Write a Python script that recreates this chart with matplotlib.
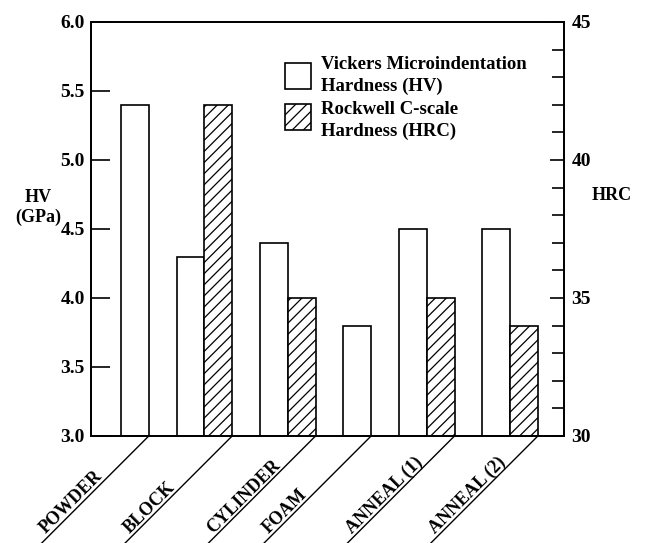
import numpy as np
import matplotlib
matplotlib.use('Agg')
import matplotlib.pyplot as plt
from matplotlib.patches import Rectangle

# Данные
categories = ['POWDER', 'BLOCK', 'CYLINDER', 'FOAM', 'ANNEAL (1)', 'ANNEAL (2)']
hv = [5.4, 4.3, 4.4, 3.8, 4.5, 4.5]              # ГПа
hrc = [np.nan, 42, 35, np.nan, 35, 34]           # HRC (нет данных для POWDER и FOAM)
legend_labels = ['Vickers Microindentation\nHardness (HV)',
                 'Rockwell C-scale\nHardness (HRC)']

# Раскладка: номер первой позиции каждой группы
slot = np.array([0, 2, 5, 8, 10, 13])

plt.rcParams['font.family'] = ['Liberation Serif', 'DejaVu Serif']
plt.rcParams['font.weight'] = 'bold'
plt.rcParams['axes.labelweight'] = 'bold'
plt.rcParams['hatch.linewidth'] = 0.9

W, H = 648, 543
fig = plt.figure(figsize=(W / 100, H / 100), dpi=100)
ax = fig.add_axes([0.1404, 0.1971, 0.7300, 0.7624])
ax2 = ax.twinx()

# HV - белые столбцы
ax.bar(slot, np.array(hv) - 3.0, bottom=3.0, width=1.0, align='edge',
       color='white', edgecolor='black', linewidth=1.2)

# HRC - заштрихованные столбцы
hrc_arr = np.array(hrc, dtype=float)
ok = ~np.isnan(hrc_arr)
ax2.bar(slot[ok] + 1, hrc_arr[ok] - 30, bottom=30, width=1.0, align='edge',
        color='white', edgecolor='black', linewidth=1.2, hatch='///')

ax.set_xlim(-1.08, 15.94)
ax.set_ylim(3.0, 6.0)
ax2.set_ylim(30, 45)

ax.set_xticks([])
ax.set_yticks(np.arange(3.0, 6.01, 0.5))
ax.set_yticklabels([f'{v:.1f}' for v in np.arange(3.0, 6.01, 0.5)])
ax.tick_params(axis='y', direction='in', length=14, width=1.2, labelsize=14, pad=4.5)

ax2.set_yticks([30, 35, 40, 45])
ax2.set_yticks(np.arange(30, 46, 1), minor=True)
ax2.tick_params(axis='y', which='major', direction='in', length=10, width=1.2,
                labelsize=14, pad=5.5)
ax2.tick_params(axis='y', which='minor', direction='in', length=9, width=1.2)

for a in (ax, ax2):
    for s in a.spines.values():
        s.set_linewidth(1.3)

ax.set_ylabel('HV\n(GPa)', rotation=0, fontsize=13, ha='center', va='center')
ax.yaxis.set_label_coords(-0.112, 0.553)
ax2.set_ylabel('HRC', rotation=0, fontsize=13, ha='center', va='center')
ax2.yaxis.set_label_coords(1.1015, 0.58)

# Наклонные подписи категорий с линиями
x_end = np.where(ok, slot + 2, slot + 1)
for name, xe in zip(categories, x_end):
    ax.annotate('', xy=(xe, 0), xycoords=('data', 'axes fraction'),
                xytext=(-125, -125), textcoords='offset pixels',
                arrowprops=dict(arrowstyle='-', lw=1.0, shrinkA=0, shrinkB=0),
                annotation_clip=False)
    ax.annotate(name, xy=(xe, 0), xycoords=('data', 'axes fraction'),
                xytext=(-100, -101), textcoords='offset pixels',
                rotation=45, rotation_mode='anchor', ha='left', va='bottom',
                fontsize=13, annotation_clip=False)

# Легенда (рисуется вручную: квадратные значки между двумя строками текста)
box_top = [63, 104]
line_base = [[69, 91], [114, 136]]
for i, lab in enumerate(legend_labels):
    fig.add_artist(Rectangle((285 / W, 1 - (box_top[i] + 26) / H), 26 / W, 26 / H,
                             transform=fig.transFigure, facecolor='white',
                             edgecolor='black', linewidth=1.2,
                             hatch='///' if i == 1 else None))
    for j, line in enumerate(lab.split('\n')):
        fig.text(321 / W, 1 - line_base[i][j] / H, line, fontsize=13.5,
                 ha='left', va='baseline')

fig.savefig('out.png', dpi=100)
